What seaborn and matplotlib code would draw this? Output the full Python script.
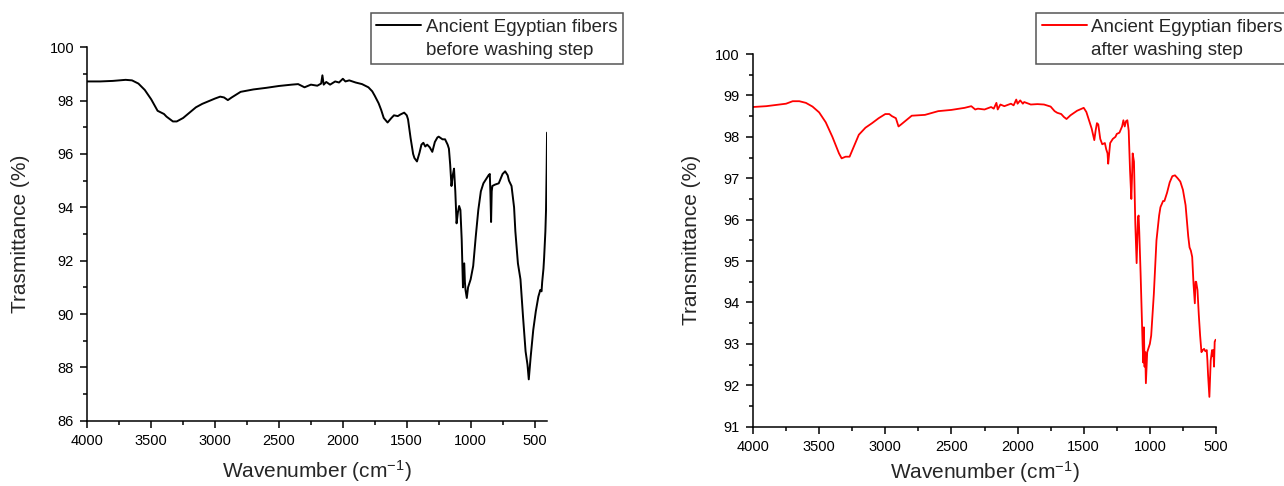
import numpy as np
import pandas as pd
import matplotlib
matplotlib.use("Agg")
import matplotlib.pyplot as plt
from matplotlib.lines import Line2D
from matplotlib.ticker import MultipleLocator
import seaborn as sns

# ---------------- data ----------------
wn_before = [4000, 3900, 3800, 3700, 3650, 3600, 3550, 3500, 3450, 3400, 3380, 3330, 3300, 3250, 3200,
             3150, 3100, 3050, 3000, 2960, 2930, 2900, 2870, 2800, 2700, 2600, 2500, 2400, 2350, 2300,
             2250, 2200, 2170, 2160, 2150, 2130, 2100, 2060, 2030, 2000, 1980, 1950, 1900, 1850, 1800,
             1770, 1750, 1720, 1700, 1680, 1650, 1620, 1600, 1570, 1550, 1520, 1500, 1490, 1470, 1450,
             1440, 1420, 1400, 1385, 1370, 1355, 1340, 1320, 1300, 1280, 1260, 1250, 1220, 1200, 1180,
             1170, 1160, 1150, 1140, 1130, 1120, 1110, 1100, 1090, 1080, 1070, 1060, 1055, 1050, 1045,
             1040, 1030, 1020, 1000, 980, 960, 940, 920, 900, 880, 860, 850, 845, 840, 835,
             830, 810, 780, 750, 730, 710, 700, 680, 660, 650, 630, 610, 590, 570, 555,
             545, 530, 510, 490, 470, 455, 445, 440, 430, 425, 420, 415, 410, 405, 402]
tr_before = [98.72, 98.72, 98.74, 98.78, 98.76, 98.64, 98.40, 98.05, 97.62, 97.50, 97.40, 97.22, 97.22, 97.35, 97.55,
             97.75, 97.88, 97.98, 98.08, 98.15, 98.12, 98.02, 98.12, 98.33, 98.42, 98.48, 98.55, 98.60, 98.62, 98.50,
             98.60, 98.56, 98.64, 98.95, 98.60, 98.70, 98.60, 98.72, 98.68, 98.82, 98.72, 98.76, 98.68, 98.62, 98.50,
             98.35, 98.18, 97.90, 97.65, 97.35, 97.18, 97.35, 97.45, 97.42, 97.48, 97.55, 97.45, 97.30, 96.60, 96.00,
             95.85, 95.72, 96.05, 96.35, 96.42, 96.28, 96.35, 96.25, 96.08, 96.45, 96.62, 96.65, 96.55, 96.55, 96.35,
             96.20, 95.60, 94.80, 95.20, 95.45, 94.60, 93.40, 93.80, 94.05, 93.90, 92.80, 91.00, 91.85, 91.90, 91.20,
             90.90, 90.60, 91.00, 91.30, 91.80, 92.90, 93.90, 94.60, 94.90, 95.05, 95.20, 95.25, 94.50, 93.45, 94.60,
             94.80, 94.85, 94.90, 95.25, 95.35, 95.20, 95.00, 94.80, 94.00, 93.10, 91.90, 91.30, 89.90, 88.60, 88.10,
             87.55, 88.40, 89.40, 90.10, 90.65, 90.90, 90.85, 91.20, 91.70, 92.10, 92.60, 93.10, 93.90, 95.50, 96.80]

wn_after = [4000, 3900, 3800, 3750, 3700, 3650, 3600, 3550, 3500, 3450, 3400, 3350, 3330, 3300, 3270,
            3240, 3200, 3150, 3100, 3050, 3000, 2970, 2950, 2920, 2900, 2880, 2850, 2800, 2700, 2600,
            2500, 2400, 2350, 2320, 2300, 2250, 2200, 2180, 2160, 2150, 2130, 2100, 2050, 2030, 2010,
            2000, 1980, 1960, 1950, 1900, 1850, 1800, 1750, 1720, 1700, 1670, 1650, 1630, 1600, 1550,
            1500, 1480, 1460, 1440, 1420, 1410, 1400, 1390, 1375, 1360, 1340, 1330, 1320, 1315, 1300,
            1280, 1260, 1250, 1230, 1210, 1200, 1190, 1180, 1170, 1160, 1150, 1140, 1135, 1130, 1120,
            1110, 1100, 1090, 1085, 1080, 1070, 1060, 1055, 1050, 1045, 1040, 1035, 1030, 1020, 1010,
            1000, 990, 970, 950, 930, 920, 900, 890, 870, 850, 830, 810, 790, 770, 750,
            730, 710, 700, 690, 680, 670, 660, 655, 650, 640, 630, 620, 610, 600, 590,
            580, 570, 565, 560, 550, 545, 540, 530, 525, 520, 515, 510, 503]
tr_after = [98.72, 98.74, 98.78, 98.80, 98.86, 98.86, 98.82, 98.73, 98.59, 98.35, 98.00, 97.60, 97.48, 97.52, 97.52,
            97.75, 98.05, 98.22, 98.33, 98.45, 98.55, 98.55, 98.50, 98.45, 98.25, 98.30, 98.38, 98.51, 98.53, 98.62,
            98.65, 98.70, 98.74, 98.66, 98.68, 98.66, 98.72, 98.68, 98.82, 98.66, 98.78, 98.74, 98.80, 98.76, 98.90,
            98.80, 98.88, 98.80, 98.84, 98.78, 98.79, 98.78, 98.73, 98.62, 98.58, 98.55, 98.48, 98.43, 98.52, 98.63,
            98.70, 98.60, 98.40, 98.20, 97.92, 98.15, 98.33, 98.30, 97.95, 97.82, 97.85, 97.70, 97.60, 97.35, 97.85,
            97.95, 98.00, 98.07, 98.10, 98.25, 98.40, 98.25, 98.38, 98.40, 98.15, 97.20, 96.50, 97.00, 97.60, 97.40,
            95.90, 94.95, 96.05, 96.10, 95.70, 94.70, 93.55, 93.00, 92.55, 93.40, 92.45, 92.80, 92.05, 92.80, 92.90,
            93.00, 93.20, 94.20, 95.50, 96.10, 96.30, 96.45, 96.45, 96.65, 96.90, 97.05, 97.07, 97.00, 96.92, 96.72,
            96.35, 95.60, 95.33, 95.25, 95.10, 94.45, 93.98, 94.50, 94.50, 94.30, 93.70, 93.20, 92.80, 92.85, 92.88,
            92.82, 92.85, 92.60, 92.25, 91.72, 92.20, 92.60, 92.85, 92.70, 92.85, 92.45, 93.05, 93.10]

label_before = ["Ancient Egyptian fibers", "before washing step"]
label_after = ["Ancient Egyptian fibers", "after washing step"]
xlabel_text = "Wavenumber (cm$^{-1}$)"
ylabel_left = "Trasmittance (%)"
ylabel_right = "Transmittance (%)"

df_before = pd.DataFrame({"wn": wn_before, "tr": tr_before})
df_after = pd.DataFrame({"wn": wn_after, "tr": tr_after})

# ---------------- style ----------------
sns.set_style("ticks")
plt.rcParams["font.family"] = ["Liberation Sans", "DejaVu Sans"]
plt.rcParams["mathtext.fontset"] = "custom"
plt.rcParams["mathtext.rm"] = "Liberation Sans"
plt.rcParams["mathtext.it"] = "Liberation Sans"

W, H = 1284, 486
fig = plt.figure(figsize=(W / 100, H / 100), dpi=100)

def px_axes(x0, y0, x1, y1):
    return fig.add_axes([x0 / W, 1 - y1 / H, (x1 - x0) / W, (y1 - y0) / H])

ax1 = px_axes(87.3, 47.3, 547.3, 420.7)
ax2 = px_axes(753.0, 54.0, 1216.0, 426.7)

sns.lineplot(data=df_before, x="wn", y="tr", sort=False, ax=ax1, color="black", lw=1.4, estimator=None)
sns.lineplot(data=df_after, x="wn", y="tr", sort=False, ax=ax2, color="#ff0000", lw=1.3, estimator=None)

ax1.set_xlim(4000, 400)
ax1.set_ylim(86, 100)
ax1.xaxis.set_major_locator(MultipleLocator(500))
ax1.xaxis.set_minor_locator(MultipleLocator(250))
ax1.yaxis.set_major_locator(MultipleLocator(2))
ax1.yaxis.set_minor_locator(MultipleLocator(1))

ax2.set_xlim(4000, 500)
ax2.set_ylim(91, 100)
ax2.xaxis.set_major_locator(MultipleLocator(500))
ax2.xaxis.set_minor_locator(MultipleLocator(250))
ax2.yaxis.set_major_locator(MultipleLocator(1))
ax2.yaxis.set_minor_locator(MultipleLocator(0.5))

for ax, yl, ypad, xpad in ((ax1, ylabel_left, 14, 7), (ax2, ylabel_right, 10, 4)):
    sns.despine(ax=ax)
    for s in ("left", "bottom"):
        ax.spines[s].set_color("black")
        ax.spines[s].set_linewidth(1.1)
    ax.tick_params(which="major", direction="out", length=5, width=1.1, color="black",
                   labelsize=10.5, labelcolor="black", pad=4.5)
    ax.tick_params(which="minor", direction="out", length=3, width=1.1, color="black")
    ax.set_xlabel(xlabel_text, fontsize=15, labelpad=xpad)
    ax.set_ylabel(yl, fontsize=15, labelpad=ypad)

# legends
def make_legend(ax, color, labels, x0, y0):
    handles = [Line2D([], [], color=color, lw=1.4), Line2D([], [], color="none")]
    leg = ax.legend(handles, labels, loc="upper left",
                    bbox_to_anchor=(x0 / W, 1 - y0 / H), bbox_transform=fig.transFigure,
                    fontsize=13.5, frameon=True, fancybox=False, framealpha=1,
                    edgecolor="#555555", handlelength=2.4, handletextpad=0.25,
                    labelspacing=0.3, borderpad=0.3, borderaxespad=0)
    leg.get_frame().set_linewidth(1.1)
    return leg

make_legend(ax1, "black", label_before, 370.7, 13.3)
make_legend(ax2, "#ff0000", label_after, 1036.0, 13.3)

fig.savefig("out.png", dpi=100)
